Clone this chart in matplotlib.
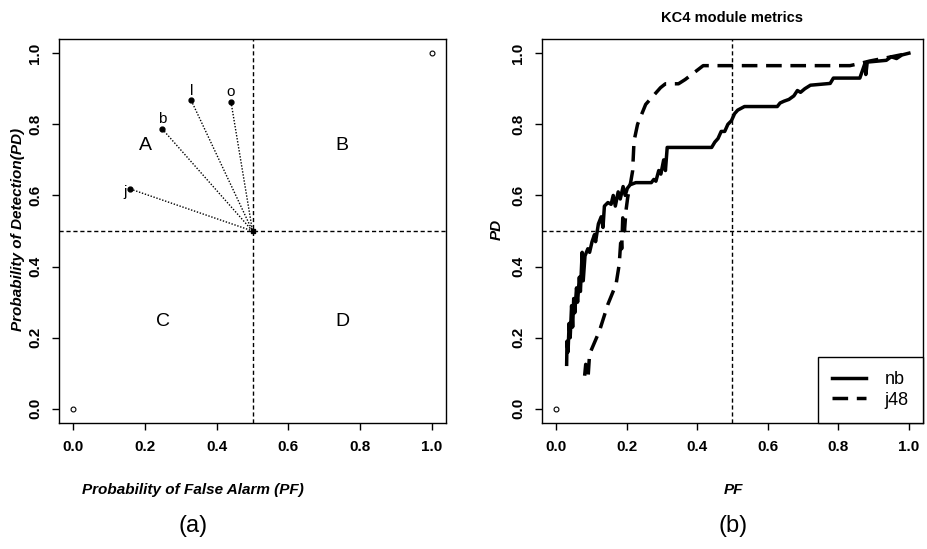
import matplotlib
matplotlib.use("Agg")
import matplotlib.pyplot as plt

plt.rcParams['font.family'] = ['Liberation Sans', 'DejaVu Sans']

# panel (a): learner operating points
pts_label = ["j", "b", "l", "o"]
pts_pf = [0.159, 0.248, 0.329, 0.440]
pts_pd = [0.618, 0.787, 0.867, 0.863]
centre = (0.5, 0.5)
regions = ["A", "B", "C", "D"]
region_pf = [0.2, 0.75, 0.25, 0.75]
region_pd = [0.74, 0.74, 0.245, 0.245]

# panel (b): KC4 ROC-ish curves
nb_pf = [0.030, 0.031, 0.034, 0.037, 0.040, 0.044, 0.047, 0.050, 0.053, 0.058,
         0.061, 0.066, 0.069, 0.074, 0.077, 0.082, 0.090, 0.095, 0.102, 0.109,
         0.112, 0.120, 0.128, 0.133, 0.137, 0.147, 0.156, 0.162, 0.168, 0.176,
         0.182, 0.190, 0.196, 0.202, 0.210, 0.226, 0.270, 0.277, 0.283, 0.291,
         0.297, 0.305, 0.310, 0.315, 0.329, 0.441, 0.450, 0.459, 0.468, 0.478,
         0.487, 0.497, 0.506, 0.515, 0.534, 0.627, 0.635, 0.646, 0.660, 0.674,
         0.684, 0.693, 0.705, 0.721, 0.777, 0.786, 0.861, 0.868, 0.875, 0.878,
         0.882, 0.936, 0.950, 0.965, 0.980, 1.000]
nb_pd = [0.125, 0.19, 0.16, 0.24, 0.20, 0.29, 0.23, 0.31, 0.27, 0.34,
         0.30, 0.37, 0.33, 0.44, 0.36, 0.43, 0.45, 0.44, 0.47, 0.49,
         0.47, 0.52, 0.54, 0.51, 0.57, 0.58, 0.575, 0.60, 0.57, 0.61,
         0.59, 0.625, 0.60, 0.62, 0.63, 0.636, 0.636, 0.645, 0.64, 0.67,
         0.66, 0.70, 0.67, 0.735, 0.735, 0.735, 0.75, 0.76, 0.78, 0.78,
         0.80, 0.81, 0.83, 0.84, 0.85, 0.85, 0.86, 0.865, 0.87, 0.88,
         0.895, 0.89, 0.90, 0.91, 0.915, 0.93, 0.93, 0.95, 0.97, 0.94,
         0.975, 0.98, 0.99, 0.985, 0.995, 1.000]
j48_pf = [0.081, 0.084, 0.088, 0.091, 0.095, 0.123, 0.147, 0.170, 0.179, 0.184,
          0.186, 0.189, 0.194, 0.198, 0.203, 0.212, 0.217, 0.221, 0.231, 0.254,
          0.296, 0.310, 0.347, 0.366, 0.417, 0.833, 0.865, 0.889, 0.936, 1.000]
j48_pd = [0.093, 0.125, 0.10, 0.093, 0.154, 0.219, 0.294, 0.350, 0.406, 0.481,
          0.45, 0.537, 0.50, 0.556, 0.594, 0.640, 0.669, 0.753, 0.800, 0.856,
          0.903, 0.914, 0.914, 0.926, 0.965, 0.965, 0.972, 0.978, 0.987, 1.000]

ticks = [0.0, 0.2, 0.4, 0.6, 0.8, 1.0]
tick_labels = ["0.0", "0.2", "0.4", "0.6", "0.8", "1.0"]
ref_dash = (0, (3, 2))


def style_axes(ax):
    ax.set_xlim(-0.04, 1.04)
    ax.set_ylim(-0.04, 1.04)
    ax.set_xticks(ticks)
    ax.set_yticks(ticks)
    ax.set_xticklabels(tick_labels, fontsize=11, fontweight='bold')
    ax.set_yticklabels(tick_labels, fontsize=11, fontweight='bold',
                       rotation=90, va='center')
    ax.tick_params(direction='out', length=5, width=1, pad=7)
    for s in ax.spines.values():
        s.set_linewidth(1.0)
    ax.axvline(0.5, color='black', lw=1, linestyle=ref_dash)
    ax.axhline(0.5, color='black', lw=1, linestyle=ref_dash)


fig = plt.figure(figsize=(9.28, 5.49), dpi=100)
ax1 = fig.add_axes([0.0636, 0.2295, 0.417, 0.6995])
ax2 = fig.add_axes([0.584, 0.2295, 0.4106, 0.6995])

# (a)
style_axes(ax1)
ax1.plot([0, 1], [0, 1], linestyle='none', marker='o', ms=3.5,
         mfc='white', mec='black', mew=0.8)
for lab, x, y in zip(pts_label, pts_pf, pts_pd):
    ax1.plot([x, centre[0]], [y, centre[1]], color='black', lw=1,
             linestyle=(0, (1, 1.2)))
    ax1.plot(x, y, 'o', color='black', ms=3.5)
    if lab == "j":
        ax1.annotate(lab, (x, y), xytext=(-4, -2), textcoords='offset points',
                     ha='center', va='center', fontsize=11)
    else:
        ax1.annotate(lab, (x, y), xytext=(0, 7), textcoords='offset points',
                     ha='center', va='center', fontsize=11)
ax1.plot(centre[0], centre[1], 's', color='black', ms=2.5)
for r, x, y in zip(regions, region_pf, region_pd):
    ax1.text(x, y, r, ha='center', va='center', fontsize=14)

fig.text(193 / 928, 1 - 490 / 549, "Probability of False Alarm (PF)",
         ha='center', va='center', fontsize=11, fontweight='bold', style='italic')
fig.text(18 / 928, 1 - 229 / 549, "Probability of Detection(PD)",
         ha='center', va='center', rotation=90, fontsize=11,
         fontweight='bold', style='italic')
fig.text(193 / 928, 1 - 526 / 549, "(a)", ha='center', va='center', fontsize=17)

# (b)
style_axes(ax2)
ax2.plot([0], [0], linestyle='none', marker='o', ms=3.5,
         mfc='white', mec='black', mew=0.8)
ax2.plot(nb_pf, nb_pd, color='black', lw=2.5, label='nb')
ax2.plot(j48_pf, j48_pd, color='black', lw=2.5, linestyle=(0, (4.5, 2.5)),
         label='j48')
leg = ax2.legend(loc='lower right', borderaxespad=0, fontsize=13,
                 fancybox=False, framealpha=1, edgecolor='black',
                 handlelength=1.9, handletextpad=1.0, borderpad=0.8,
                 labelspacing=0.2)
leg.get_frame().set_linewidth(1.0)
ax2.set_title("KC4 module metrics", fontsize=10.5, fontweight='bold', pad=12)
fig.text(733 / 928, 1 - 490 / 549, "PF", ha='center', va='center',
         fontsize=11, fontweight='bold', style='italic')
fig.text(497 / 928, 1 - 229 / 549, "PD", ha='center', va='center',
         rotation=90, fontsize=11, fontweight='bold', style='italic')
fig.text(733 / 928, 1 - 526 / 549, "(b)", ha='center', va='center', fontsize=17)

fig.savefig("out.png", dpi=100)
